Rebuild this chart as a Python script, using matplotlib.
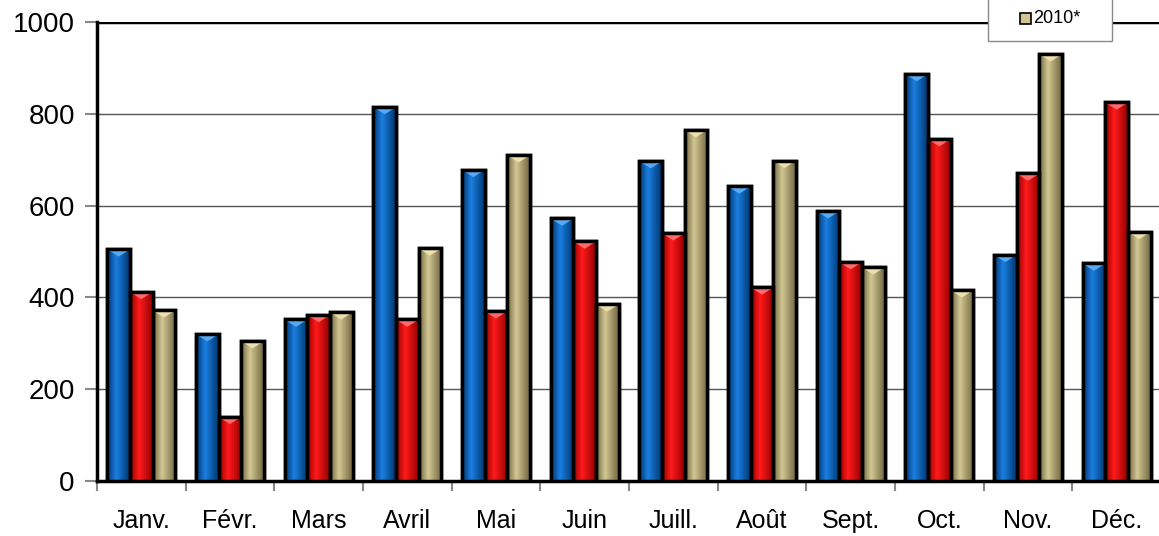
import matplotlib.pyplot as plt
import numpy as np
from matplotlib.patches import Polygon, Rectangle
from matplotlib.colors import LinearSegmentedColormap

plt.rcParams['font.family'] = ['Liberation Sans', 'DejaVu Sans']

months = ['Janv.', 'Févr.', 'Mars', 'Avril', 'Mai', 'Juin',
          'Juill.', 'Août', 'Sept.', 'Oct.', 'Nov.', 'Déc.']
serie_bleue = [505, 320, 352, 815, 678, 572, 697, 642, 588, 887, 493, 474]
serie_rouge = [412, 140, 362, 352, 370, 522, 540, 422, 477, 745, 670, 825]
serie_2010 = [372, 305, 368, 507, 710, 385, 765, 698, 466, 416, 930, 543]
legend_label = '2010*'

# (dark edge, light centre) for each series
colours = [('#00356e', '#1a7ee0'), ('#920000', '#ff1a1a'), ('#70663f', '#d2c693')]
top_colours = ['#5aa8f0', '#ff6a6a', '#ece0ac']

fig = plt.figure(figsize=(11.59, 5.36), dpi=100)
ax = fig.add_axes([97 / 1159, 1 - 481 / 536, 1064 / 1159, (481 - 22) / 536])

x = np.arange(len(months))
w = 0.255
gradient = np.concatenate([np.linspace(0, 1, 40), np.linspace(1, 0, 60)]).reshape(1, -1)

for i, vals in enumerate([serie_bleue, serie_rouge, serie_2010]):
    dark, light = colours[i]
    cmap = LinearSegmentedColormap.from_list('g%d' % i, [dark, light])
    bars = ax.bar(x + (i - 1) * w, vals, w, color=light, edgecolor='black',
                  linewidth=2.5, zorder=3)
    for b in bars:
        bx, bw, bh = b.get_x(), b.get_width(), b.get_height()
        im = ax.imshow(gradient, cmap=cmap, aspect='auto',
                       extent=[bx, bx + bw, 0, bh], zorder=3.5)
        im.set_clip_path(b)
        d = 16
        ax.add_patch(Polygon([[bx + 0.05 * bw, bh - 2], [bx + 0.95 * bw, bh - 2],
                              [bx + bw / 2, bh - d]], closed=True,
                             facecolor=top_colours[i], edgecolor='none', zorder=4))
        ax.add_patch(Rectangle((bx, 0), bw, bh, facecolor='none',
                               edgecolor='black', linewidth=2.5, zorder=5))

ax.set_xlim(-0.5, 11.5)
ax.set_ylim(0, 1000)
ax.set_yticks([0, 200, 400, 600, 800, 1000])
ax.yaxis.grid(True, color='#555555', linewidth=1)
ax.set_axisbelow(True)
ax.axhline(1000, color='black', linewidth=2.5, zorder=2)

ax.set_xticks(x)
ax.set_xticklabels(months, fontsize=18)
ax.set_xticks(np.arange(-0.5, 12, 1), minor=True)
ax.tick_params(axis='x', which='major', length=0, pad=20)
ax.tick_params(axis='x', which='minor', length=7, color='#888888', width=1.5)
ax.tick_params(axis='y', length=9, color='#888888', width=1.5, labelsize=20, pad=7)

for side in ['top', 'right']:
    ax.spines[side].set_visible(False)
ax.spines['left'].set_linewidth(2.5)
ax.spines['bottom'].set_linewidth(2.5)

# legend box in the top right corner
W, H = 1159, 536
fig.patches.append(Rectangle((988 / W, 1 - 41 / H), 124 / W, 60 / H,
                             transform=fig.transFigure, facecolor='white',
                             edgecolor='#888888', linewidth=1, zorder=10))
fig.patches.append(Rectangle((1020 / W, 1 - 24 / H), 11 / W, 11 / H,
                             transform=fig.transFigure, facecolor=colours[2][1],
                             edgecolor='black', linewidth=1.2, zorder=11))
fig.text(1033 / W, 1 - 18.5 / H, legend_label, fontsize=13, va='center',
         ha='left', zorder=12)

fig.savefig('out.png', dpi=100)
